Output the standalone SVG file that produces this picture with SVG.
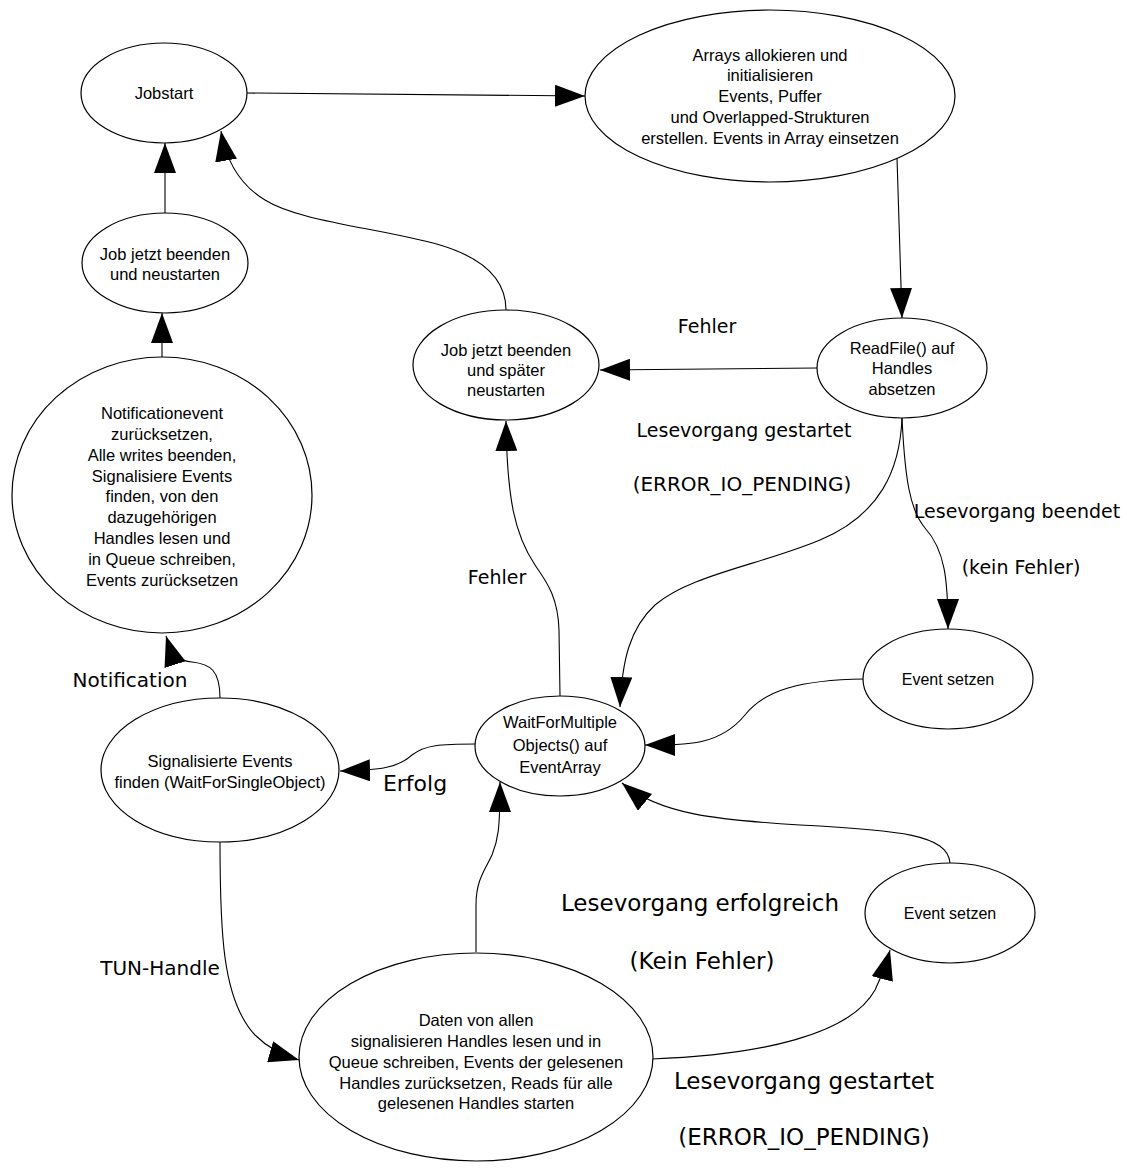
<svg xmlns="http://www.w3.org/2000/svg" width="1127" height="1169" viewBox="0 0 1127 1169">
<style>
.node ellipse{fill:#fff;stroke:#000;stroke-width:1.2}
.node text{font-family:"Liberation Sans",Arial,sans-serif;font-size:16.5px;text-anchor:middle;fill:#000}
.node text.sm{font-size:16px}
.edge path{fill:none;stroke:#000;stroke-width:1.1;marker-end:url(#ah)}
.lbl{font-family:"DejaVu Sans",sans-serif;fill:#000;text-anchor:middle}
.l19{font-size:19px}
.l20{font-size:20px}
.l22{font-size:22px}
.l23{font-size:23px}
</style>
<defs>
<marker id="ah" markerUnits="userSpaceOnUse" markerWidth="30" markerHeight="22" refX="30" refY="11" orient="auto">
<path d="M0,0 L30,11 L0,22 z" fill="#000"/>
</marker>
</defs>
<rect width="1127" height="1169" fill="#fff"/>
<g id="edges" class="edge">
<path d="M246,93 L585,96"/>
<path d="M897,158 L902,318"/>
<path d="M817,368 L600,370"/>
<path d="M506,310 C506,285 490,260 440,245 C380,228 300,222 265,200 C240,185 226,160 221,131"/>
<path d="M165,213 L165,143"/>
<path d="M162,358 L162,313"/>
<path d="M220,698 C220,670 210,664 192,662 C180,661 172,655 166,636"/>
<path d="M476,744 C440,744 425,745 412,755 C398,768 380,770 340,771"/>
<path d="M560,696 L559,630 C558,595 545,580 535,565 C515,535 507,500 506,421"/>
<path d="M902,418 C900,470 880,515 820,540 C760,565 690,575 655,605 C630,628 622,660 620,707"/>
<path d="M902,418 C905,480 910,510 925,528 C945,550 948,580 948,629"/>
<path d="M864,679 C800,680 765,690 745,715 C720,745 690,745 645,745"/>
<path d="M950,863 C948,835 900,830 800,825 C720,820 660,815 622,783"/>
<path d="M220,842 C220,930 222,1000 255,1035 C270,1050 285,1056 299,1060"/>
<path d="M476,952 L476,905 C476,880 485,870 492,855 C498,840 500,830 500,782"/>
<path d="M652,1059 C760,1055 850,1035 875,990 C882,975 886,965 890,950"/>
</g>
<g id="labels">
<text class="lbl l19" x="707" y="333">Fehler</text>
<text class="lbl l19" x="744" y="437">Lesevorgang gestartet</text>
<text class="lbl l20" x="742" y="491">(ERROR_IO_PENDING)</text>
<text class="lbl l19" x="1017" y="518">Lesevorgang beendet</text>
<text class="lbl l19" x="1021" y="574">(kein Fehler)</text>
<text class="lbl l19" x="497" y="584">Fehler</text>
<text class="lbl l20" x="130" y="687">Notification</text>
<text class="lbl l22" x="415" y="791">Erfolg</text>
<text class="lbl l20" x="160" y="975">TUN-Handle</text>
<text class="lbl l23" x="700" y="911">Lesevorgang erfolgreich</text>
<text class="lbl l23" x="702" y="969">(Kein Fehler)</text>
<text class="lbl l23" x="804" y="1089">Lesevorgang gestartet</text>
<text class="lbl l23" x="804" y="1145">(ERROR_IO_PENDING)</text>
</g>
<g id="jobstart" class="node">
<ellipse cx="164" cy="93" rx="83" ry="50"/>
<text x="164" y="99">Jobstart</text>
</g>
<g id="arrays" class="node">
<ellipse cx="770" cy="96" rx="185" ry="86"/>
<text x="770" y="61">Arrays allokieren und</text>
<text x="770" y="81">initialisieren</text>
<text x="770" y="102">Events, Puffer</text>
<text x="770" y="123">und Overlapped-Strukturen</text>
<text x="770" y="144">erstellen. Events in Array einsetzen</text>
</g>
<g id="readfile" class="node">
<ellipse cx="902" cy="368" rx="85" ry="50"/>
<text x="902" y="354">ReadFile() auf</text>
<text x="902" y="374">Handles</text>
<text x="902" y="395">absetzen</text>
</g>
<g id="jobspaeter" class="node">
<ellipse cx="506" cy="365" rx="93" ry="55"/>
<text x="506" y="356">Job jetzt beenden</text>
<text x="506" y="376">und später</text>
<text x="506" y="396">neustarten</text>
</g>
<g id="jobneu" class="node">
<ellipse cx="165" cy="263" rx="83" ry="50"/>
<text x="165" y="260">Job jetzt beenden</text>
<text x="165" y="280">und neustarten</text>
</g>
<g id="notif" class="node">
<ellipse cx="162" cy="495" rx="150" ry="138"/>
<text x="162" y="419">Notificationevent</text>
<text x="162" y="440">zurücksetzen,</text>
<text x="162" y="461">Alle writes beenden,</text>
<text x="162" y="482">Signalisiere Events</text>
<text x="162" y="502">finden, von den</text>
<text x="162" y="523">dazugehörigen</text>
<text x="162" y="544">Handles lesen und</text>
<text x="162" y="565">in Queue schreiben,</text>
<text x="162" y="586">Events zurücksetzen</text>
</g>
<g id="signal" class="node">
<ellipse cx="220" cy="770" rx="119" ry="72"/>
<text x="220" y="767">Signalisierte Events</text>
<text x="220" y="788">finden (WaitForSingleObject)</text>
</g>
<g id="wfmo" class="node">
<ellipse cx="560" cy="746" rx="85" ry="50"/>
<text x="560" y="728">WaitForMultiple</text>
<text x="560" y="751">Objects() auf</text>
<text x="560" y="773">EventArray</text>
</g>
<g id="event1" class="node">
<ellipse cx="948" cy="679" rx="85" ry="50"/>
<text class="sm" x="948" y="685">Event setzen</text>
</g>
<g id="event2" class="node">
<ellipse cx="950" cy="913" rx="85" ry="50"/>
<text class="sm" x="950" y="919">Event setzen</text>
</g>
<g id="daten" class="node">
<ellipse cx="476" cy="1057" rx="177" ry="104"/>
<text x="476" y="1026">Daten von allen</text>
<text x="476" y="1047">signalisieren Handles lesen und in</text>
<text x="476" y="1068">Queue schreiben, Events der gelesenen</text>
<text x="476" y="1089">Handles zurücksetzen, Reads für alle</text>
<text x="476" y="1109">gelesenen Handles starten</text>
</g>
</svg>
